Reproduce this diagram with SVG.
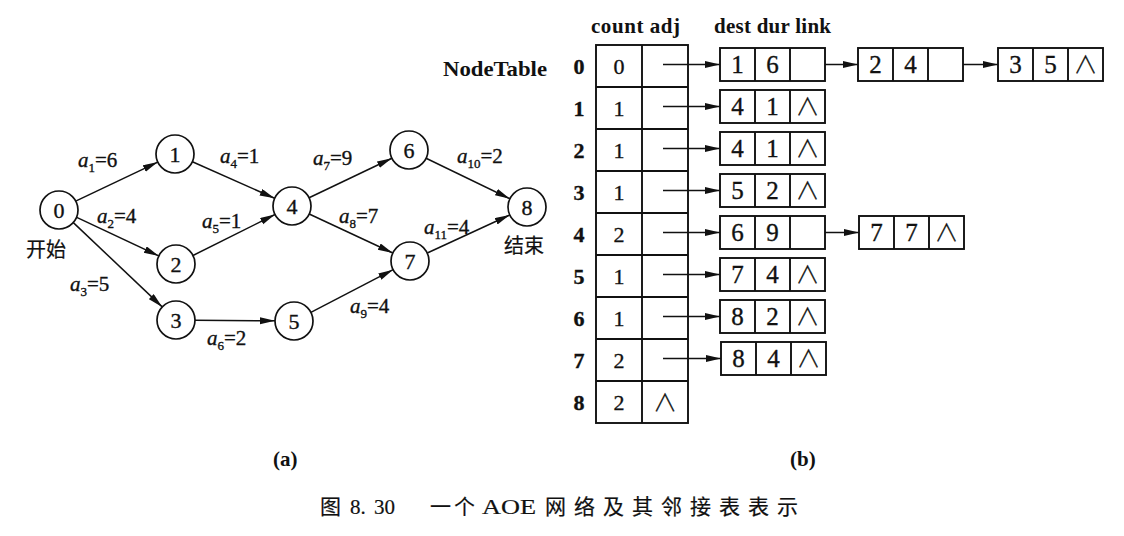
<svg xmlns="http://www.w3.org/2000/svg" width="1124" height="536" viewBox="0 0 1124 536">
<style>
text{font-family:"Liberation Serif","Noto Sans CJK SC",serif;fill:#111;stroke:#111;stroke-width:0.35}
.nd circle{fill:#fff;stroke:#111;stroke-width:1.7}
.nd text{font-size:22px;text-anchor:middle}
.lab{font-size:21px}
.lab .i{font-style:italic}
.cjk{font-family:"Noto Sans CJK SC",sans-serif;font-size:20px;stroke-width:0.2}
.cell{fill:#fff;stroke:#111;stroke-width:1.9}
.ln{stroke:#111;stroke-width:1.5;fill:none}
.t{font-size:22px;text-anchor:middle}
.tl{font-size:25px;text-anchor:middle}
.nil{font-family:"Noto Sans CJK SC",sans-serif;font-weight:300;font-size:24px;text-anchor:middle;stroke-width:0.3}
.hd{font-size:21px;font-weight:bold;stroke-width:0}
.cap{font-size:21px;stroke-width:0.2}
</style>
<defs>
<marker id="ah" markerUnits="userSpaceOnUse" markerWidth="16" markerHeight="8" refX="15" refY="3.5" orient="auto">
<path d="M0,0 L15,3.5 L0,7 Z" fill="#111"/>
</marker>
</defs>

<!-- graph (a) connectors -->
<g id="edges" class="ln" marker-end="url(#ah)">
<line x1="76.2" y1="200.9" x2="157.8" y2="162.1"/>
<line x1="76.2" y1="217.1" x2="158.8" y2="255.9"/>
<line x1="72.8" y1="222.1" x2="162.2" y2="306.9"/>
<line x1="192.4" y1="161.7" x2="274.6" y2="198.3"/>
<line x1="193" y1="255.5" x2="275" y2="214.5"/>
<line x1="195" y1="320.2" x2="275" y2="320.8"/>
<line x1="309.1" y1="197.8" x2="391.9" y2="158.2"/>
<line x1="309.2" y1="214" x2="392.8" y2="253"/>
<line x1="310.9" y1="312.3" x2="393.1" y2="269.7"/>
<line x1="426.1" y1="158.3" x2="509.9" y2="198.7"/>
<line x1="427.3" y1="253" x2="509.7" y2="215"/>
</g>

<g id="n0" class="nd"><circle cx="59" cy="210" r="19"/><text x="59" y="218">0</text></g>
<g id="n1" class="nd"><circle cx="175" cy="154" r="19"/><text x="175" y="162">1</text></g>
<g id="n2" class="nd"><circle cx="176" cy="264" r="19"/><text x="176" y="272">2</text></g>
<g id="n3" class="nd"><circle cx="176" cy="320" r="19"/><text x="176" y="328">3</text></g>
<g id="n4" class="nd"><circle cx="292" cy="206" r="19"/><text x="292" y="214">4</text></g>
<g id="n5" class="nd"><circle cx="294" cy="321" r="19"/><text x="294" y="329">5</text></g>
<g id="n6" class="nd"><circle cx="409" cy="150" r="19"/><text x="409" y="158">6</text></g>
<g id="n7" class="nd"><circle cx="410" cy="261" r="19"/><text x="410" y="269">7</text></g>
<g id="n8" class="nd"><circle cx="527" cy="207" r="19"/><text x="527" y="215">8</text></g>

<g id="labels" class="lab">
<text x="78" y="167"><tspan class="i">a</tspan><tspan font-size="13" dy="5">1</tspan><tspan dy="-5">=6</tspan></text>
<text x="220" y="163"><tspan class="i">a</tspan><tspan font-size="13" dy="5">4</tspan><tspan dy="-5">=1</tspan></text>
<text x="97" y="223"><tspan class="i">a</tspan><tspan font-size="13" dy="5">2</tspan><tspan dy="-5">=4</tspan></text>
<text x="202" y="228"><tspan class="i">a</tspan><tspan font-size="13" dy="5">5</tspan><tspan dy="-5">=1</tspan></text>
<text x="70" y="291"><tspan class="i">a</tspan><tspan font-size="13" dy="5">3</tspan><tspan dy="-5">=5</tspan></text>
<text x="207" y="345"><tspan class="i">a</tspan><tspan font-size="13" dy="5">6</tspan><tspan dy="-5">=2</tspan></text>
<text x="313" y="165"><tspan class="i">a</tspan><tspan font-size="13" dy="5">7</tspan><tspan dy="-5">=9</tspan></text>
<text x="339" y="223"><tspan class="i">a</tspan><tspan font-size="13" dy="5">8</tspan><tspan dy="-5">=7</tspan></text>
<text x="457" y="163"><tspan class="i">a</tspan><tspan font-size="13" dy="5">10</tspan><tspan dy="-5">=2</tspan></text>
<text x="424" y="234"><tspan class="i">a</tspan><tspan font-size="13" dy="5">11</tspan><tspan dy="-5">=4</tspan></text>
<text x="350" y="313"><tspan class="i">a</tspan><tspan font-size="13" dy="5">9</tspan><tspan dy="-5">=4</tspan></text>
<text class="cjk" x="26" y="257">开始</text>
<text class="cjk" x="504" y="253">结束</text>
</g>

<!-- (b) adjacency list -->
<g id="headers">
<text class="hd" x="591" y="33" textLength="89" lengthAdjust="spacing">count adj</text>
<text class="hd" x="714" y="33" textLength="117" lengthAdjust="spacing">dest dur link</text>
<text class="hd" x="443" y="76" textLength="104" lengthAdjust="spacingAndGlyphs">NodeTable</text>
</g>

<g id="nodetable">
<rect class="cell" x="596" y="45" width="92" height="378"/>
<line class="cell" x1="642" y1="45" x2="642" y2="423"/>
<path class="cell" d="M596,87H688M596,129H688M596,171H688M596,213H688M596,255H688M596,297H688M596,339H688M596,381H688"/>
<g class="t" font-weight="bold" style="stroke-width:0">
<text x="579" y="74">0</text><text x="579" y="116">1</text><text x="579" y="158">2</text>
<text x="579" y="200">3</text><text x="579" y="242">4</text><text x="579" y="284">5</text>
<text x="579" y="326">6</text><text x="579" y="368">7</text><text x="579" y="410">8</text>
</g>
<g class="t">
<text x="619" y="74">0</text><text x="619" y="116">1</text><text x="619" y="158">1</text>
<text x="619" y="200">1</text><text x="619" y="242">2</text><text x="619" y="284">1</text>
<text x="619" y="326">1</text><text x="619" y="368">2</text><text x="619" y="410">2</text>
</g>
<text class="nil" x="665" y="411">∧</text>
</g>

<g id="connectors" class="ln" marker-end="url(#ah)">
<line x1="663" y1="64.5" x2="720" y2="64.5"/>
<line x1="663" y1="106.5" x2="720" y2="106.5"/>
<line x1="663" y1="148.5" x2="720" y2="148.5"/>
<line x1="663" y1="190.5" x2="720" y2="190.5"/>
<line x1="663" y1="232.5" x2="720" y2="232.5"/>
<line x1="663" y1="274.5" x2="720" y2="274.5"/>
<line x1="663" y1="316.5" x2="720" y2="316.5"/>
<line x1="663" y1="358.5" x2="721" y2="358.5"/>
<line x1="806" y1="64.5" x2="858" y2="64.5"/>
<line x1="943" y1="64.5" x2="998" y2="64.5"/>
<line x1="806" y1="232.5" x2="859" y2="232.5"/>
</g>

<g id="e0a"><rect class="cell" x="720" y="48" width="105" height="33"/><path class="cell" d="M755,48V81M790,48V81"/><text class="tl" x="737.5" y="73">1</text><text class="tl" x="772.5" y="73">6</text></g>
<g id="e0b"><rect class="cell" x="858" y="48" width="105" height="33"/><path class="cell" d="M893,48V81M928,48V81"/><text class="tl" x="875.5" y="73">2</text><text class="tl" x="910.5" y="73">4</text></g>
<g id="e0c"><rect class="cell" x="998" y="48" width="105" height="33"/><path class="cell" d="M1033,48V81M1068,48V81"/><text class="tl" x="1015.5" y="73">3</text><text class="tl" x="1050.5" y="73">5</text><text class="nil" x="1085.5" y="73">∧</text></g>
<g id="e1"><rect class="cell" x="720" y="90" width="105" height="33"/><path class="cell" d="M755,90V123M790,90V123"/><text class="tl" x="737.5" y="115">4</text><text class="tl" x="772.5" y="115">1</text><text class="nil" x="807.5" y="115">∧</text></g>
<g id="e2"><rect class="cell" x="720" y="132" width="105" height="33"/><path class="cell" d="M755,132V165M790,132V165"/><text class="tl" x="737.5" y="157">4</text><text class="tl" x="772.5" y="157">1</text><text class="nil" x="807.5" y="157">∧</text></g>
<g id="e3"><rect class="cell" x="720" y="174" width="105" height="33"/><path class="cell" d="M755,174V207M790,174V207"/><text class="tl" x="737.5" y="199">5</text><text class="tl" x="772.5" y="199">2</text><text class="nil" x="807.5" y="199">∧</text></g>
<g id="e4a"><rect class="cell" x="720" y="216" width="105" height="33"/><path class="cell" d="M755,216V249M790,216V249"/><text class="tl" x="737.5" y="241">6</text><text class="tl" x="772.5" y="241">9</text></g>
<g id="e4b"><rect class="cell" x="859" y="216" width="105" height="33"/><path class="cell" d="M894,216V249M929,216V249"/><text class="tl" x="876.5" y="241">7</text><text class="tl" x="911.5" y="241">7</text><text class="nil" x="946.5" y="241">∧</text></g>
<g id="e5"><rect class="cell" x="720" y="258" width="105" height="33"/><path class="cell" d="M755,258V291M790,258V291"/><text class="tl" x="737.5" y="283">7</text><text class="tl" x="772.5" y="283">4</text><text class="nil" x="807.5" y="283">∧</text></g>
<g id="e6"><rect class="cell" x="720" y="300" width="105" height="33"/><path class="cell" d="M755,300V333M790,300V333"/><text class="tl" x="737.5" y="325">8</text><text class="tl" x="772.5" y="325">2</text><text class="nil" x="807.5" y="325">∧</text></g>
<g id="e7"><rect class="cell" x="721" y="342" width="105" height="33"/><path class="cell" d="M756,342V375M791,342V375"/><text class="tl" x="738.5" y="367">8</text><text class="tl" x="773.5" y="367">4</text><text class="nil" x="808.5" y="367">∧</text></g>

<g id="captions">
<text class="hd" x="273" y="466">(a)</text>
<text class="hd" x="790" y="466">(b)</text>
<text class="cap" y="514"><tspan x="320">图</tspan><tspan x="350">8.</tspan><tspan x="374">30</tspan><tspan x="430" letter-spacing="3">一个</tspan><tspan x="482" textLength="54" lengthAdjust="spacingAndGlyphs">AOE</tspan><tspan x="545" letter-spacing="8">网络及其邻接表表示</tspan></text>
</g>
</svg>
